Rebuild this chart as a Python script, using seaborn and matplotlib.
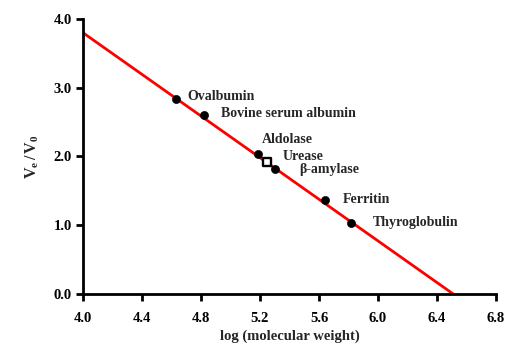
import numpy as np
import pandas as pd
import matplotlib
matplotlib.use("Agg")
import matplotlib.pyplot as plt
import seaborn as sns

# Data
proteins = ["Ovalbumin", "Bovine serum albumin", "Aldolase", "β-amylase", "Ferritin", "Thyroglobulin"]
log_mw = [4.63, 4.82, 5.19, 5.30, 5.64, 5.82]
ve_v0 = [2.84, 2.60, 2.04, 1.82, 1.37, 1.03]

unknown_name = ["Urease"]
unknown_log_mw = [5.25]
unknown_ve_v0 = [1.92]

# Fit line parameters
fit_intercept_at_4 = 3.80
fit_slope = -1.514

x_ticks = [4.0, 4.4, 4.8, 5.2, 5.6, 6.0, 6.4, 6.8]
y_ticks = [0.0, 1.0, 2.0, 3.0, 4.0]

# label offsets in pixels (dx, dy)
label_offsets = {
    "Ovalbumin": (11, 2),
    "Bovine serum albumin": (17, 2),
    "Aldolase": (3, 14),
    "β-amylase": (25, -1),
    "Ferritin": (18, 0),
    "Thyroglobulin": (21, 1),
    "Urease": (15, 5),
}

sns.set_theme(style="ticks")
plt.rcParams["font.family"] = ["Liberation Serif", "DejaVu Serif"]
plt.rcParams["font.weight"] = "bold"
plt.rcParams["mathtext.fontset"] = "custom"
plt.rcParams["mathtext.rm"] = "Liberation Serif:bold"
plt.rcParams["mathtext.it"] = "Liberation Serif:bold"
plt.rcParams["mathtext.bf"] = "Liberation Serif:bold"

fig = plt.figure(figsize=(5.22, 3.52), dpi=100)
ax = fig.add_axes([0.159, 0.165, 0.791, 0.781])

x_end = 4.0 - fit_intercept_at_4 / fit_slope
line_x = np.array([4.0, x_end])
line_df = pd.DataFrame({"x": line_x, "y": fit_intercept_at_4 + fit_slope * (line_x - 4.0)})
sns.lineplot(data=line_df, x="x", y="y", color="#ff0000", linewidth=2, ax=ax, zorder=2)

df = pd.DataFrame({"x": log_mw, "y": ve_v0, "name": proteins})
sns.scatterplot(data=df, x="x", y="y", color="black", s=34, edgecolor="black", ax=ax, zorder=3)

udf = pd.DataFrame({"x": unknown_log_mw, "y": unknown_ve_v0})
sns.scatterplot(data=udf, x="x", y="y", marker="s", s=40, facecolor="white",
                edgecolor="black", linewidth=1.7, ax=ax, zorder=4)

for n, x, y in zip(proteins + unknown_name, log_mw + unknown_log_mw, ve_v0 + unknown_ve_v0):
    dx, dy = label_offsets[n]
    ax.annotate(n, (x, y), xytext=(dx, dy), textcoords="offset pixels",
                ha="left", va="center", fontsize=10, fontweight="bold")

ax.set_xlim(4.0, 6.8)
ax.set_ylim(0.0, 4.0)
ax.set_xticks(x_ticks)
ax.set_yticks(y_ticks)
ax.set_xticklabels([f"{v:.1f}" for v in x_ticks], fontsize=10.5, fontweight="bold")
ax.set_yticklabels([f"{v:.1f}" for v in y_ticks], fontsize=10.5, fontweight="bold")
ax.set_xlabel("log (molecular weight)", fontsize=10.5, fontweight="bold", labelpad=3)
ax.set_ylabel(r"$\mathregular{V_e\,/\,V_0}$", fontsize=11.5, fontweight="bold", labelpad=9)

sns.despine(ax=ax)
for s in ["left", "bottom"]:
    ax.spines[s].set_linewidth(2)
    ax.spines[s].set_color("black")
ax.tick_params(axis="both", direction="out", length=5, width=2, colors="black")
ax.tick_params(axis="x", pad=8)
ax.tick_params(axis="y", pad=3)
ax.set_facecolor("white")
fig.patch.set_facecolor("white")

fig.savefig("out.png", dpi=100)
